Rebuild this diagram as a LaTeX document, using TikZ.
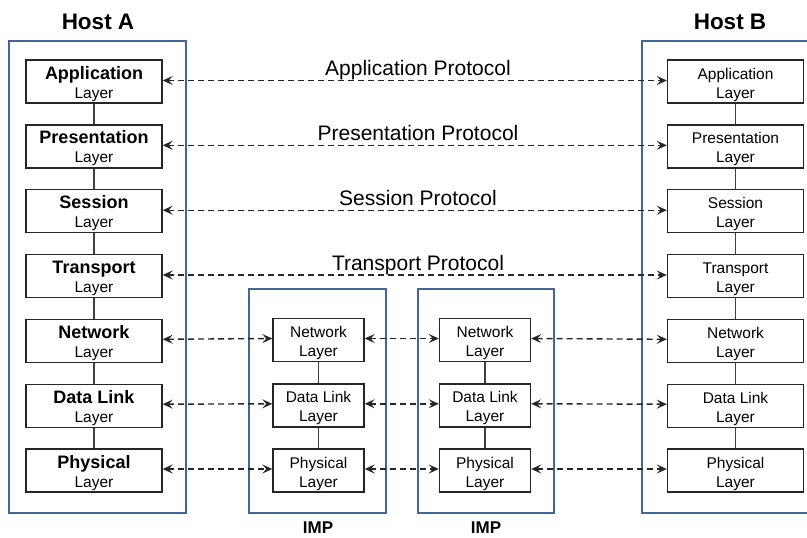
\documentclass[tikz,border=0pt]{standalone}
\usepackage{fontspec}
\setmainfont{Liberation Sans}
\usetikzlibrary{arrows.meta}
\definecolor{hostblue}{RGB}{65,102,152}
\newcommand{\toprule}{\rule{0pt}{18pt}}
\newcommand{\botrule}{\rule[-4pt]{0pt}{4pt}}
\newcommand{\lname}[1]{\toprule{\fontsize{18}{19}\selectfont\bfseries #1}\\Layer\botrule}
\newcommand{\pname}[1]{\toprule #1\\Layer\botrule}
\begin{document}
\begin{tikzpicture}[x=1pt,y=-1pt,
  outer/.style={draw=hostblue,line width=2.7pt},
  layerbox/.style={draw=black!85,line width=1.4pt,minimum width=136pt,minimum height=43pt,inner sep=0pt,align=center,font=\fontsize{15.5}{19}\selectfont},
  impbox/.style={layerbox,minimum width=91pt},
  link/.style={draw=black!75,line width=1.6pt},
  proto/.style={draw=black!85,line width=1.4pt,dash pattern=on 6pt off 4pt,
    {Stealth[length=10pt,width=9pt,inset=4pt]}-{Stealth[length=10pt,width=9pt,inset=4pt]}},
  title/.style={font=\fontsize{22.5}{26}\selectfont\bfseries,anchor=base},
  implabel/.style={font=\fontsize{17}{20}\selectfont\bfseries,anchor=base},
  protolabel/.style={font=\fontsize{21}{24}\selectfont,anchor=base}
]
\useasboundingbox (0,0) rectangle (807,538);
\clip (0,0) rectangle (807,538);

% outer boxes
\draw[outer] (9,41) rectangle (186,513);
\draw[outer] (642,41) rectangle (840,513);
\draw[outer] (249,289) rectangle (386,513);
\draw[outer] (418,289) rectangle (554,513);

% titles
\node[title] (ta) at (98,30) {Host A};
\node[title] (tb) at (730,30) {Host B};
\node[implabel] (ti1) at (318,533) {IMP};
\node[implabel] (ti2) at (486,533) {IMP};

% Host A
\node[layerbox] (a1) at (94,81.5) {\lname{Application}};
\node[layerbox] (a2) at (94,146.3) {\lname{Presentation}};
\node[layerbox] (a3) at (94,211.2) {\lname{Session}};
\node[layerbox] (a4) at (94,276) {\lname{Transport}};
\node[layerbox] (a5) at (94,340.8) {\lname{Network}};
\node[layerbox] (a6) at (94,405.7) {\lname{Data Link}};
\node[layerbox] (a7) at (94,470.5) {\lname{Physical}};

% Host B
\node[layerbox] (b1) at (735.5,81.5) {\pname{Application}};
\node[layerbox] (b2) at (735.5,146.3) {\pname{Presentation}};
\node[layerbox] (b3) at (735.5,211.2) {\pname{Session}};
\node[layerbox] (b4) at (735.5,276) {\pname{Transport}};
\node[layerbox] (b5) at (735.5,340.8) {\pname{Network}};
\node[layerbox] (b6) at (735.5,405.7) {\pname{Data Link}};
\node[layerbox] (b7) at (735.5,470.5) {\pname{Physical}};

% IMPs
\node[impbox] (m5) at (318.5,340) {\pname{Network}};
\node[impbox] (m6) at (318.5,405.3) {\pname{Data Link}};
\node[impbox] (m7) at (318.5,470.5) {\pname{Physical}};
\node[impbox] (n5) at (485,340) {\pname{Network}};
\node[impbox] (n6) at (485,405.3) {\pname{Data Link}};
\node[impbox] (n7) at (485,470.5) {\pname{Physical}};

% stack links
\foreach \s in {a,b}{
  \foreach \i/\j in {1/2,2/3,3/4,4/5,5/6,6/7}{
    \draw[link] (\s\i.south) -- (\s\j.north);
  }
}
\foreach \s in {m,n}{
  \draw[link] (\s5.south) -- (\s6.north);
  \draw[link] (\s6.south) -- (\s7.north);
}

% protocol arrows
\foreach \i in {1,2,3,4}{
  \draw[proto] ([yshift=1pt]a\i.east) -- ([yshift=1pt]b\i.west);
}
\foreach \i in {5,6,7}{
  \draw[proto] ([yshift=1.5pt]a\i.east) -- ([yshift=1.5pt]m\i.west);
  \draw[proto] ([yshift=1.5pt]m\i.east) -- ([yshift=1.5pt]n\i.west);
  \draw[proto] ([yshift=1.5pt]n\i.east) -- ([yshift=1.5pt]b\i.west);
}

% protocol labels
\node[protolabel] (p1) at (418,75) {Application Protocol};
\node[protolabel] (p2) at (418,140) {Presentation Protocol};
\node[protolabel] (p3) at (418,205) {Session Protocol};
\node[protolabel] (p4) at (418,270) {Transport Protocol};
\end{tikzpicture}
\end{document}
